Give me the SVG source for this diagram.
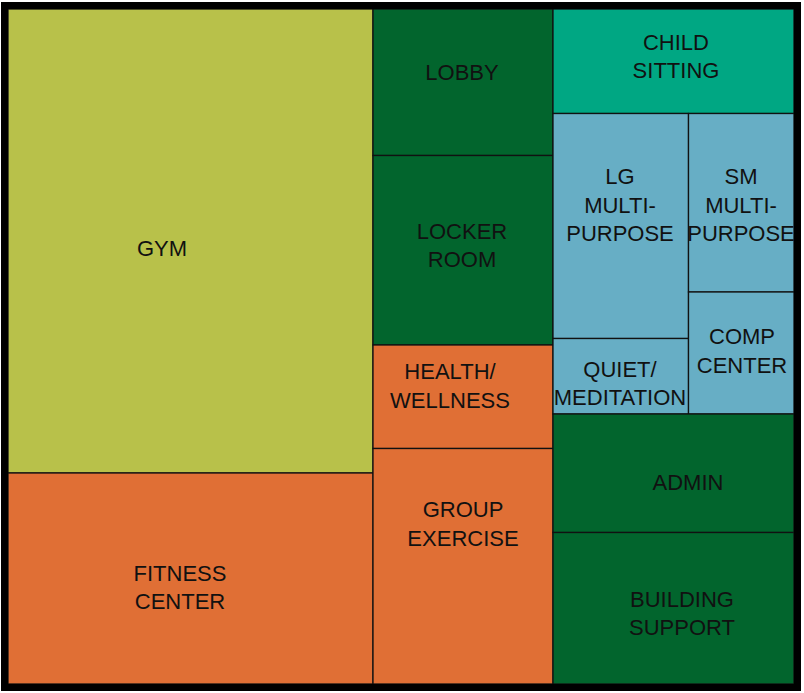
<svg xmlns="http://www.w3.org/2000/svg" width="804" height="693" viewBox="0 0 804 693">
<style>
rect.c{stroke:#111;stroke-width:1.3}
.y{fill:#B8C14A}.o{fill:#E06F35}.g{fill:#02652D}.t{fill:#00A783}.b{fill:#67AEC5}
text{font-family:"Liberation Sans",Arial,sans-serif;font-size:22px;fill:#111;text-anchor:middle}
</style>
<rect width="804" height="693" fill="#fff"/>
<g id="gym"><rect class="c y" x="8" y="9" width="365" height="464"/><text x="162" y="256">GYM</text></g>
<g id="fitness"><rect class="c o" x="8" y="473" width="365" height="211"/><text x="180" y="581">FITNESS</text><text x="180" y="609">CENTER</text></g>
<g id="lobby"><rect class="c g" x="373" y="9" width="180" height="146.5"/><text x="462" y="80">LOBBY</text></g>
<g id="locker"><rect class="c g" x="373" y="155.5" width="180" height="189.5"/><text x="462" y="239">LOCKER</text><text x="462" y="267">ROOM</text></g>
<g id="health"><rect class="c o" x="373" y="345" width="180" height="103.5"/><text x="450" y="379">HEALTH/</text><text x="450" y="408">WELLNESS</text></g>
<g id="group"><rect class="c o" x="373" y="448.5" width="180" height="235.5"/><text x="463" y="517">GROUP</text><text x="463" y="546">EXERCISE</text></g>
<g id="child"><rect class="c t" x="553" y="9" width="241" height="104.5"/><text x="676" y="50">CHILD</text><text x="676" y="78">SITTING</text></g>
<g id="lg"><rect class="c b" x="553" y="113.5" width="135.5" height="225"/><text x="620" y="184">LG</text><text x="620" y="213">MULTI-</text><text x="620" y="241">PURPOSE</text></g>
<g id="quiet"><rect class="c b" x="553" y="338.5" width="135.5" height="75.5"/><text x="620" y="377">QUIET/</text><text x="620" y="405">MEDITATION</text></g>
<g id="sm"><rect class="c b" x="688.5" y="113.5" width="105.5" height="178.5"/><text x="741" y="184">SM</text><text x="741" y="213">MULTI-</text><text x="741" y="241">PURPOSE</text></g>
<g id="comp"><rect class="c b" x="688.5" y="292" width="105.5" height="122"/><text x="742" y="344">COMP</text><text x="742" y="373">CENTER</text></g>
<g id="admin"><rect class="c g" x="553" y="414" width="241" height="118.5"/><text x="688" y="490">ADMIN</text></g>
<g id="building"><rect class="c g" x="553" y="532.5" width="241" height="151.5"/><text x="682" y="607">BUILDING</text><text x="682" y="635">SUPPORT</text></g>
<g id="connectors"/>
<rect x="4.5" y="5.5" width="793" height="682" fill="none" stroke="#000" stroke-width="7"/>
</svg>
